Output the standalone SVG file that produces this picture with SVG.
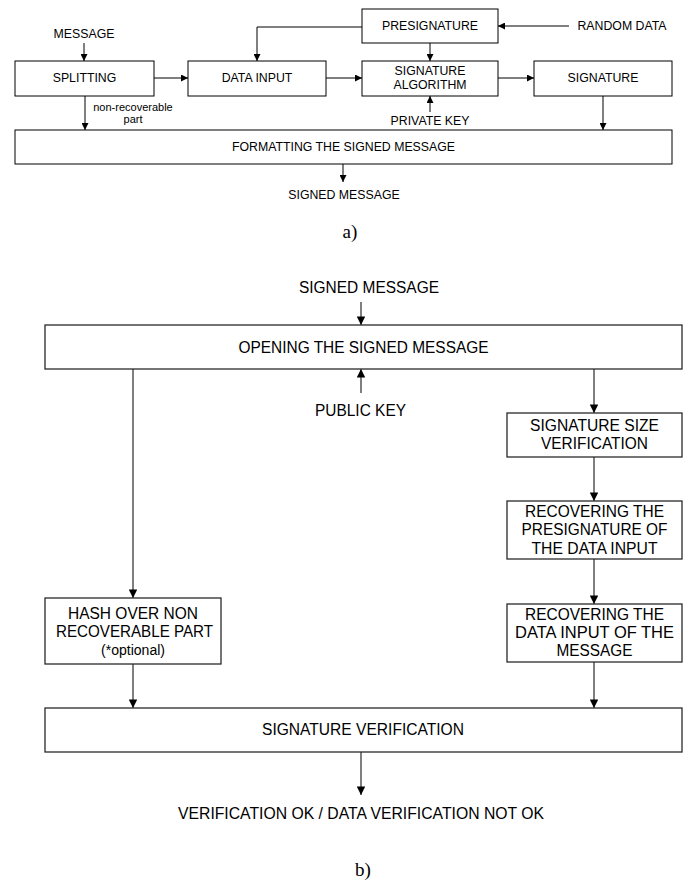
<svg xmlns="http://www.w3.org/2000/svg" width="686" height="880" viewBox="0 0 686 880">
  <style>
    .bg { fill: #ffffff; }
    .box-a { fill: #ffffff; stroke: #000000; stroke-width: 1; }
    .box-b { fill: #ffffff; stroke: #2a2a2a; stroke-width: 1.3; }
    .ln-a { fill: none; stroke: #000000; stroke-width: 1; }
    .ln-b { fill: none; stroke: #555555; stroke-width: 1.5; }
    .ta { font-family: "Liberation Sans", Arial, sans-serif; font-size: 12.3px; fill: #000000; text-anchor: middle; }
    .ts { font-family: "Liberation Sans", Arial, sans-serif; font-size: 11px; fill: #000000; text-anchor: middle; }
    .tb { font-family: "Liberation Sans", Arial, sans-serif; font-size: 16.3px; fill: #000000; text-anchor: middle; }
    .tbs { font-family: "Liberation Sans", Arial, sans-serif; font-size: 14px; fill: #000000; text-anchor: middle; }
    .cap { font-family: "Liberation Serif", "Times New Roman", serif; font-size: 19px; fill: #000000; text-anchor: middle; }
  </style>
  <defs>
    <marker id="arrA" viewBox="0 0 10 10" refX="10" refY="5" markerUnits="userSpaceOnUse" markerWidth="7" markerHeight="7" orient="auto">
      <path d="M0,0 L10,5 L0,10 z" fill="#000000"/>
    </marker>
    <marker id="arrB" viewBox="0 0 10 10" refX="10" refY="5" markerUnits="userSpaceOnUse" markerWidth="10" markerHeight="8.5" orient="auto">
      <path d="M0,0 L10,5 L0,10 z" fill="#000000"/>
    </marker>
  </defs>

  <rect class="bg" x="0" y="0" width="686" height="880"/>

  <!-- (a) signature generation -->
  <g id="connectors-a">
    <path class="ln-a" d="M84,43 V61" marker-end="url(#arrA)"/>
    <path class="ln-a" d="M154,78 H188" marker-end="url(#arrA)"/>
    <path class="ln-a" d="M362,27 H257 V61" marker-end="url(#arrA)"/>
    <path class="ln-a" d="M569,26 H498" marker-end="url(#arrA)"/>
    <path class="ln-a" d="M430,43 V61" marker-end="url(#arrA)"/>
    <path class="ln-a" d="M326,78 H362" marker-end="url(#arrA)"/>
    <path class="ln-a" d="M498,78 H534" marker-end="url(#arrA)"/>
    <path class="ln-a" d="M430,112 V96" marker-end="url(#arrA)"/>
    <path class="ln-a" d="M85,96 V130" marker-end="url(#arrA)"/>
    <path class="ln-a" d="M603,96 V130" marker-end="url(#arrA)"/>
    <path class="ln-a" d="M343,164 V182" marker-end="url(#arrA)"/>
  </g>

  <g id="message-in">
    <text class="ta" x="84" y="38.4">MESSAGE</text>
  </g>
  <g id="splitting">
    <rect class="box-a" x="15" y="61" width="139" height="35"/>
    <text class="ta" x="84.5" y="82.4">SPLITTING</text>
  </g>
  <g id="data-input">
    <rect class="box-a" x="188" y="61" width="138" height="35"/>
    <text class="ta" x="257" y="82.4">DATA INPUT</text>
  </g>
  <g id="presignature">
    <rect class="box-a" x="362" y="9" width="136" height="34"/>
    <text class="ta" x="430" y="30.4">PRESIGNATURE</text>
  </g>
  <g id="random-data">
    <text class="ta" x="622" y="30.4">RANDOM DATA</text>
  </g>
  <g id="signature-algorithm">
    <rect class="box-a" x="362" y="61" width="136" height="35"/>
    <text class="ta" x="430" y="75.4">SIGNATURE</text>
    <text class="ta" x="430" y="89.4">ALGORITHM</text>
  </g>
  <g id="signature">
    <rect class="box-a" x="534" y="61" width="138" height="35"/>
    <text class="ta" x="603" y="82.4">SIGNATURE</text>
  </g>
  <g id="private-key">
    <text class="ta" x="430" y="125.4">PRIVATE KEY</text>
  </g>
  <g id="non-recoverable-label">
    <text class="ts" x="133" y="111">non-recoverable</text>
    <text class="ts" x="133" y="123">part</text>
  </g>
  <g id="formatting">
    <rect class="box-a" x="15" y="130" width="657" height="34"/>
    <text class="ta" x="343.5" y="151.4">FORMATTING THE SIGNED MESSAGE</text>
  </g>
  <g id="signed-message-out">
    <text class="ta" x="344" y="199.4">SIGNED MESSAGE</text>
  </g>
  <text class="cap" x="350" y="238">a)</text>

  <!-- (b) signature verification -->
  <g id="connectors-b">
    <path class="ln-b" d="M361,302 V325" marker-end="url(#arrB)"/>
    <path class="ln-b" d="M361,393 V369" marker-end="url(#arrB)"/>
    <path class="ln-b" d="M133,369 V598" marker-end="url(#arrB)"/>
    <path class="ln-b" d="M133,664 V708" marker-end="url(#arrB)"/>
    <path class="ln-b" d="M594,369 V413" marker-end="url(#arrB)"/>
    <path class="ln-b" d="M594,457 V501" marker-end="url(#arrB)"/>
    <path class="ln-b" d="M594,559 V604" marker-end="url(#arrB)"/>
    <path class="ln-b" d="M594,662 V708" marker-end="url(#arrB)"/>
    <path class="ln-b" d="M361,752 V795" marker-end="url(#arrB)"/>
  </g>

  <g id="signed-message-in">
    <text class="tb" x="369" y="292.8" textLength="140" lengthAdjust="spacingAndGlyphs">SIGNED MESSAGE</text>
  </g>
  <g id="opening">
    <rect class="box-b" x="45" y="325" width="637" height="44"/>
    <text class="tb" x="363.5" y="352.8" textLength="250" lengthAdjust="spacingAndGlyphs">OPENING THE SIGNED MESSAGE</text>
  </g>
  <g id="public-key">
    <text class="tb" x="360.5" y="415.8" textLength="91" lengthAdjust="spacingAndGlyphs">PUBLIC KEY</text>
  </g>
  <g id="signature-size">
    <rect class="box-b" x="507" y="413" width="175" height="44"/>
    <text class="tb" x="594.5" y="430.8" textLength="129" lengthAdjust="spacingAndGlyphs">SIGNATURE SIZE</text>
    <text class="tb" x="594.5" y="448.8" textLength="107" lengthAdjust="spacingAndGlyphs">VERIFICATION</text>
  </g>
  <g id="recover-presignature">
    <rect class="box-b" x="507" y="501" width="175" height="58"/>
    <text class="tb" x="594.5" y="516.8" textLength="139" lengthAdjust="spacingAndGlyphs">RECOVERING THE</text>
    <text class="tb" x="594.5" y="535.3" textLength="146" lengthAdjust="spacingAndGlyphs">PRESIGNATURE OF</text>
    <text class="tb" x="594.5" y="553.8" textLength="126" lengthAdjust="spacingAndGlyphs">THE DATA INPUT</text>
  </g>
  <g id="recover-data-input">
    <rect class="box-b" x="507" y="604" width="175" height="58"/>
    <text class="tb" x="594.5" y="619.8" textLength="139" lengthAdjust="spacingAndGlyphs">RECOVERING THE</text>
    <text class="tb" x="594.5" y="637.8" textLength="159" lengthAdjust="spacingAndGlyphs">DATA INPUT OF THE</text>
    <text class="tb" x="594.5" y="656.3" textLength="76" lengthAdjust="spacingAndGlyphs">MESSAGE</text>
  </g>
  <g id="hash">
    <rect class="box-b" x="45" y="598" width="176" height="66"/>
    <text class="tb" x="133" y="618.8" textLength="130" lengthAdjust="spacingAndGlyphs">HASH OVER NON</text>
    <text class="tb" x="134.5" y="636.8" textLength="157" lengthAdjust="spacingAndGlyphs">RECOVERABLE PART</text>
    <text class="tbs" x="133" y="654.5" textLength="64" lengthAdjust="spacingAndGlyphs">(*optional)</text>
  </g>
  <g id="signature-verification">
    <rect class="box-b" x="45" y="708" width="637" height="44"/>
    <text class="tb" x="363" y="734.8" textLength="202" lengthAdjust="spacingAndGlyphs">SIGNATURE VERIFICATION</text>
  </g>
  <g id="result">
    <text class="tb" x="361" y="818.8" textLength="366" lengthAdjust="spacingAndGlyphs">VERIFICATION OK / DATA VERIFICATION NOT OK</text>
  </g>
  <text class="cap" x="363" y="876">b)</text>
</svg>
